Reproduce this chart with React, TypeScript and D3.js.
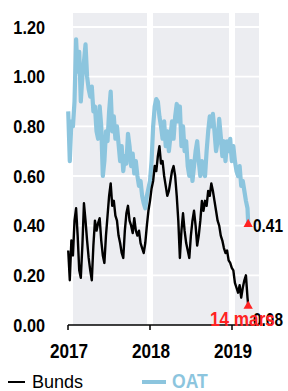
import React from "react";
import { scaleTime, scaleLinear, line, timeMonday, symbol, symbolTriangle } from "d3";

// weekly readings (Mondays), 2017-01-02 .. 2019-03-11, then the 14 mars point
const oat2017 = [
  0.86, 0.66, 0.82, 0.8, 0.9, 1.15, 1.02, 1.1, 0.9, 1.0, 1.06, 1.13, 1.0,
  0.95, 0.92, 0.96, 0.86, 0.88, 0.78, 0.75, 0.88, 0.8, 0.6, 0.66, 0.78, 0.74,
  0.86, 0.94, 0.78, 0.84, 0.75, 0.8, 0.73, 0.66, 0.72, 0.62, 0.68, 0.65, 0.77,
  0.72, 0.64, 0.69, 0.61, 0.66, 0.6, 0.56, 0.58, 0.52, 0.49, 0.47, 0.52, 0.55,
];
const oat2018 = [
  0.58, 0.66, 0.8, 0.88, 0.91, 0.9, 0.84, 0.8, 0.75, 0.82, 0.72, 0.78, 0.7,
  0.76, 0.82, 0.75, 0.84, 0.89, 0.82, 0.88, 0.72, 0.8, 0.7, 0.74, 0.64, 0.6,
  0.66, 0.58, 0.64, 0.7, 0.74, 0.66, 0.6, 0.66, 0.62, 0.6, 0.7, 0.78, 0.84,
  0.8, 0.85, 0.78, 0.7, 0.74, 0.83, 0.76, 0.68, 0.74, 0.66, 0.74, 0.7, 0.75,
];
const oat2019 = [0.66, 0.72, 0.66, 0.62, 0.6, 0.64, 0.56, 0.58, 0.54, 0.5, 0.47];

const bunds2017 = [
  0.3, 0.18, 0.34, 0.28, 0.42, 0.47, 0.36, 0.22, 0.19, 0.32, 0.49, 0.42, 0.34,
  0.27, 0.22, 0.18, 0.32, 0.42, 0.38, 0.41, 0.43, 0.34, 0.28, 0.25, 0.36, 0.44,
  0.52, 0.57, 0.48, 0.5, 0.44, 0.42, 0.36, 0.33, 0.29, 0.27, 0.38, 0.45, 0.48,
  0.42, 0.4, 0.37, 0.43, 0.38, 0.36, 0.38, 0.33, 0.31, 0.29, 0.33, 0.4, 0.46,
];
const bunds2018 = [
  0.5, 0.55, 0.58, 0.64, 0.62, 0.68, 0.72, 0.65, 0.66, 0.6, 0.56, 0.52, 0.54,
  0.58, 0.62, 0.64, 0.6, 0.52, 0.42, 0.27, 0.38, 0.45, 0.38, 0.33, 0.3, 0.27,
  0.36, 0.42, 0.46, 0.4, 0.32, 0.36, 0.42, 0.5, 0.46, 0.5, 0.48, 0.54, 0.52,
  0.57, 0.54, 0.5, 0.46, 0.42, 0.4, 0.36, 0.34, 0.31, 0.29, 0.3, 0.26, 0.25,
];
const bunds2019 = [0.23, 0.22, 0.17, 0.15, 0.13, 0.16, 0.11, 0.15, 0.18, 0.2, 0.11];

const lastDate = new Date(2019, 2, 14);
const lastOat = 0.41;
const lastBunds = 0.08;

const yTicks = [0, 0.2, 0.4, 0.6, 0.8, 1.0, 1.2];
const xTicks = [2017, 2018, 2019];

const font = "'Liberation Sans', Arial, sans-serif";
const blue = "#8cc5de";
const red = "#ff2222";

export default function App() {
  const width = 288;
  const height = 391;
  const panel = { left: 73, right: 259, top: 13 };

  const x = scaleTime()
    .domain([new Date(2017, 0, 1), new Date(2019, 0, 1)])
    .range([68, 232]);
  const y = scaleLinear().domain([0, 1.2]).range([325, 27]);

  const weeks = timeMonday.range(new Date(2017, 0, 2), new Date(2019, 2, 12));
  const toSeries = (vals: number[], last: number) =>
    vals.map((v, i) => ({ date: weeks[i], value: v })).concat([{ date: lastDate, value: last }]);

  const oat = toSeries([...oat2017, ...oat2018, ...oat2019], lastOat);
  const bunds = toSeries([...bunds2017, ...bunds2018, ...bunds2019], lastBunds);

  const lineGen = line<{ date: Date; value: number }>()
    .x(d => x(d.date))
    .y(d => y(d.value));

  const tri = symbol().type(symbolTriangle).size(38)() as string;
  const bottom = y(0);

  return (
    <svg width={width} height={height} style={{ position: "absolute", left: 0, top: 0 }}>
      <rect x={0} y={0} width={width} height={height} fill="#fff" />
      <rect x={panel.left} y={panel.top} width={panel.right - panel.left} height={bottom - panel.top} fill="#ecedf1" />

      {/* grid */}
      {yTicks.filter(t => t > 0).map(t => (
        <line key={t} x1={panel.left} x2={panel.right} y1={y(t)} y2={y(t)} stroke="#fff" strokeWidth={1.8} />
      ))}
      {xTicks.slice(1).map(yr => (
        <line key={yr} x1={x(new Date(yr, 0, 1))} x2={x(new Date(yr, 0, 1))} y1={panel.top} y2={bottom} stroke="#fff" strokeWidth={6} />
      ))}

      {/* series */}
      <path d={lineGen(oat) as string} fill="none" stroke={blue} strokeWidth={4.2} strokeLinejoin="round" />
      <path d={lineGen(bunds) as string} fill="none" stroke="#000" strokeWidth={2.4} strokeLinejoin="round" />

      {/* x axis */}
      <line x1={x(new Date(2017, 0, 1))} x2={panel.right} y1={bottom} y2={bottom} stroke="#000" strokeWidth={1.5} />
      {xTicks.map(yr => {
        const px = x(new Date(yr, 0, 1));
        return (
          <g key={yr}>
            <line x1={px} x2={px} y1={bottom} y2={bottom + 5} stroke="#000" strokeWidth={1.5} />
            <text transform={`translate(${px + 1},358) scale(0.88,1)`} textAnchor="middle" fontFamily={font} fontWeight="bold" fontSize={19.5}>
              {yr}
            </text>
          </g>
        );
      })}

      {/* y labels */}
      {yTicks.map(t => (
        <text key={t} transform={`translate(45,${y(t) + 6.7}) scale(0.88,1)`} textAnchor="end" fontFamily={font} fontWeight="bold" fontSize={18.5}>
          {t.toFixed(2)}
        </text>
      ))}

      {/* end markers */}
      <path d={tri} transform={`translate(${x(lastDate)},${y(lastOat) + 1})`} fill={red} />
      <path d={tri} transform={`translate(${x(lastDate)},${y(lastBunds) + 1})`} fill={red} />
      <text transform={`translate(253,${y(lastOat) + 9}) scale(0.88,1)`} fontFamily={font} fontWeight="bold" fontSize={17.5}>
        {lastOat.toFixed(2)}
      </text>
      <text transform={`translate(253,${y(lastBunds) + 21}) scale(0.88,1)`} fontFamily={font} fontWeight="bold" fontSize={17.5}>
        {lastBunds.toFixed(2)}
      </text>
      <text transform={`translate(210,${y(lastBunds) + 21}) scale(0.88,1)`} fontFamily={font} fontWeight="bold" fontSize={19.5} fill={red}>
        14 mars
      </text>

      {/* legend */}
      <line x1={8} x2={25} y1={382} y2={382} stroke="#000" strokeWidth={2} />
      <text transform="translate(32,388) scale(0.95,1)" fontFamily={font} fontSize={19}>
        Bunds
      </text>
      <line x1={142} x2={166} y1={382} y2={382} stroke={blue} strokeWidth={4} />
      <text transform="translate(172,388) scale(0.9,1)" fontFamily={font} fontWeight="bold" fontSize={19.5} fill={blue}>
        OAT
      </text>
    </svg>
  );
}
